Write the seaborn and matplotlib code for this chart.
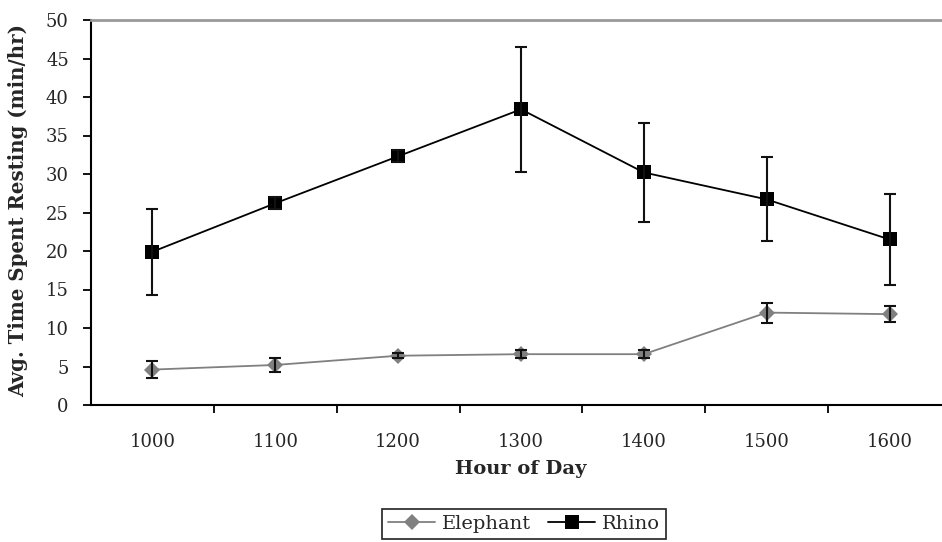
import numpy as np
import pandas as pd
import matplotlib
matplotlib.use("Agg")
import matplotlib.pyplot as plt
import seaborn as sns

hours = [1000, 1100, 1200, 1300, 1400, 1500, 1600]
elephant = [4.6, 5.2, 6.4, 6.6, 6.6, 12.0, 11.8]
elephant_err = [1.15, 0.9, 0.3, 0.5, 0.5, 1.3, 1.0]
rhino = [19.9, 26.2, 32.3, 38.4, 30.2, 26.7, 21.5]
rhino_err = [5.6, 0.8, 0.8, 8.1, 6.4, 5.45, 5.95]
series = ["Elephant", "Rhino"]
colors = {"Elephant": "#808080", "Rhino": "#000000"}
markers = {"Elephant": "D", "Rhino": "s"}

df = pd.DataFrame({
    "Hour": hours * 2,
    "Value": elephant + rhino,
    "Animal": ["Elephant"] * len(hours) + ["Rhino"] * len(hours),
})

sns.set_style("white")
plt.rcParams["font.family"] = ["DejaVu Serif", "DejaVu Sans"]

W, H = 942, 542
fig = plt.figure(figsize=(W / 100, H / 100), dpi=100)
ax_left, ax_right, ax_bottom, ax_top = 91, 951, 405, 20
ax = fig.add_axes([ax_left / W, 1 - ax_bottom / H, (ax_right - ax_left) / W, (ax_bottom - ax_top) / H])

sns.lineplot(data=df, x="Hour", y="Value", hue="Animal", style="Animal",
             palette=colors, markers=markers, dashes=False, ax=ax,
             linewidth=1.3, markersize=9, markeredgewidth=0, errorbar=None)
for ln in ax.lines:
    ln.set_markersize(10.5 if ln.get_marker() == "s" else 8)

for vals, errs in [(elephant, elephant_err), (rhino, rhino_err)]:
    ax.errorbar(hours, vals, yerr=errs, fmt="none", ecolor="#111111",
                elinewidth=1.5, capsize=4.5, capthick=1.5, zorder=5)

ax.set_xlim(950, 1650)
ax.set_ylim(0, 50)
ax.set_yticks(np.arange(0, 51, 5))
ax.set_xticks(hours)
ax.set_xticklabels([str(h) for h in hours])
ax.set_xticks([h + 50 for h in hours[:-1]], minor=True)
ax.tick_params(axis="x", which="major", length=0, pad=20, labelsize=13)
ax.tick_params(axis="x", which="minor", length=6, width=1.3, direction="out", bottom=True, color="black")
ax.tick_params(axis="y", which="major", length=6, width=1.3, direction="out", left=True, pad=10, labelsize=13, color="black")

for s in ["left", "bottom"]:
    ax.spines[s].set_color("black")
    ax.spines[s].set_linewidth(1.5)
ax.spines["top"].set_color("#999999")
ax.spines["top"].set_linewidth(2)
ax.spines["right"].set_visible(False)

ax.set_xlabel("Hour of Day", fontsize=14, fontweight="bold")
ax.set_ylabel("Avg. Time Spent Resting (min/hr)", fontsize=14.2, fontweight="bold")
ax.xaxis.set_label_coords(0.5, (ax_bottom - 460) / (ax_bottom - ax_top))
ax.yaxis.set_label_coords((28 - ax_left) / (ax_right - ax_left), 0.5 + 2 / (ax_bottom - ax_top))

handles, labels = ax.get_legend_handles_labels()
leg = ax.legend(handles, labels, loc="center", ncol=2,
                bbox_to_anchor=(524 / W, 1 - 524 / H), bbox_transform=fig.transFigure,
                frameon=True, fancybox=False, fontsize=14, handlelength=2.4,
                handletextpad=0.35, columnspacing=0.9, borderpad=0.3, borderaxespad=0)
leg.get_frame().set_edgecolor("black")
leg.get_frame().set_linewidth(1.3)

fig.savefig("out.png", dpi=100)
